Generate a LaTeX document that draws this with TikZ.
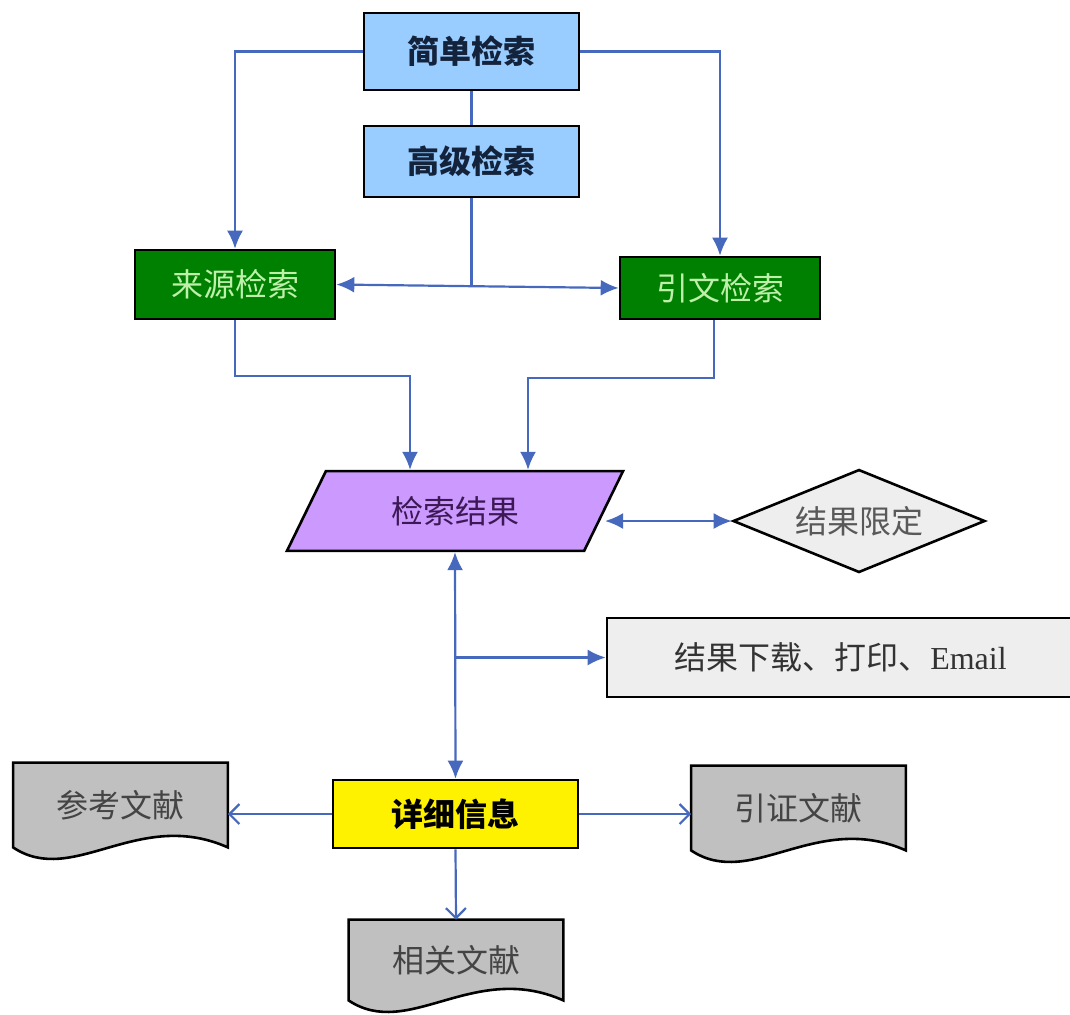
\documentclass[tikz,border=0pt]{standalone}
\usepackage{fontspec}
\setmainfont{Noto Sans CJK SC}
\newfontfamily\enserif{Liberation Serif}
\usetikzlibrary{shapes.geometric, arrows.meta, positioning, backgrounds}

\definecolor{qblue}{RGB}{153,204,255}
\definecolor{qnavy}{RGB}{20,35,60}
\definecolor{qgreen}{RGB}{0,128,0}
\definecolor{qgreentext}{RGB}{190,240,170}
\definecolor{qpurple}{RGB}{204,153,255}
\definecolor{qpurpletext}{RGB}{60,25,85}
\definecolor{qlight}{RGB}{238,238,238}
\definecolor{qdoc}{RGB}{192,192,192}
\definecolor{qdoctext}{RGB}{68,68,68}
\definecolor{qline}{RGB}{70,105,190}

\begin{document}
\begin{tikzpicture}[x=0.5pt, y=-0.5pt, font=\fontsize{16}{19}\selectfont]
            \tikzstyle{base} = [draw, line width=1.3pt, text centered, inner sep=0pt]
            \tikzstyle{searchbox} = [base, rectangle, fill=qblue, text=qnavy, font=\fontsize{16}{19}\selectfont\bfseries, minimum width=107.5pt]
            \tikzstyle{greenbox} = [base, rectangle, fill=qgreen, text=qgreentext, minimum width=100pt]
            \tikzstyle{resultbox} = [base, trapezium, trapezium left angle=64, trapezium right angle=116, trapezium stretches body, inner ysep=12.5pt, fill=qpurple, text=qpurpletext, minimum width=168pt]
            \tikzstyle{limitbox} = [base, diamond, aspect=2.45, fill=qlight, text=black!65, minimum width=126pt, minimum height=51.5pt]
            \tikzstyle{outbox} = [base, rectangle, fill=qlight, text=black!80, minimum width=233.5pt, minimum height=39.5pt]
            \tikzstyle{detailbox} = [base, rectangle, fill=yellow, font=\fontsize{16}{19}\selectfont\bfseries, minimum width=122.5pt, minimum height=34pt]
            \tikzstyle{docbox} = [rectangle, text=qdoctext, minimum width=107pt, minimum height=42pt]
            \tikzstyle{docshape} = [draw, line width=1.3pt, fill=qdoc]
            \tikzstyle{line} = [draw, -{Latex[length=9pt,width=8pt]}, line width=1.1pt, qline]
            \tikzstyle{dline} = [draw, {Latex[length=9pt,width=8pt]}-{Latex[length=9pt,width=8pt]}, line width=1.1pt, qline]
            \tikzstyle{plain} = [draw, line width=1.1pt, qline]
            \tikzstyle{open line} = [draw, -{Straight Barb[length=5pt,width=10pt]}, line width=1.1pt, qline]

            \useasboundingbox (0,0) rectangle (1070,1014);

            \node [searchbox, minimum height=38.5pt] (simple) at (471.5,51.5) {简单检索};
            \node [searchbox, minimum height=35.5pt] (adv) at (471.5,161.5) {高级检索};
            \node [greenbox, minimum height=34.5pt] (source) at (235,284.5) {来源检索};
            \node [greenbox, minimum height=31pt] (cited) at (720,288) {引文检索};
            \node [resultbox] (result) at (455,511) {检索结果};
            \node [limitbox] (limit) at (859,521) {结果限定};
            \node [outbox] (output) at (840.5,657.5) {结果下载、打印、{\enserif Email}};
            \node [detailbox] (detail) at (455.5,814) {详细信息};
            \node [docbox] (refs) at (120.5,805) {参考文献};
            \node [docbox] (citing) at (798.5,808) {引证文献};
            \node [docbox, minimum height=40pt] (related) at (456,960) {相关文献};

            \begin{scope}[on background layer]
            \foreach \n in {refs, citing, related}
                \path [docshape] (\n.north west) -- (\n.north east) -- (\n.south east)
                    .. controls +(-90,-40) and +(60,40) .. (\n.south west) -- cycle;
            \end{scope}

            \path [line] (simple.west) -| (source.north);
            \path [line] (simple.east) -| (cited.north);
            \path [plain] (simple.south) -- (adv.north);
            \path [plain] (adv.south) -- (adv.south |- source.east);
            \path [dline] (source.east) -- (cited.west);
            \path [line] (source.south) -- ++(0,56) -| ([xshift=-22.5pt]result.north);
            \path [line] ([xshift=-3pt]cited.south) -- ++(0,58) -| ([xshift=36.5pt]result.north);
            \path [dline] (result.east |- limit.west) -- (limit.west);
            \path [dline] (result.south) -- (detail.north);
            \coordinate (branch) at (detail.north |- output.west);
            \path [line] (branch) -- (output.west);
            \path [open line] (detail.west) -- (detail.west -| refs.east);
            \path [open line] (detail.east) -- (detail.east -| citing.west);
            \path [open line] (detail.south) -- (related.north);
        \end{tikzpicture}
\end{document}
